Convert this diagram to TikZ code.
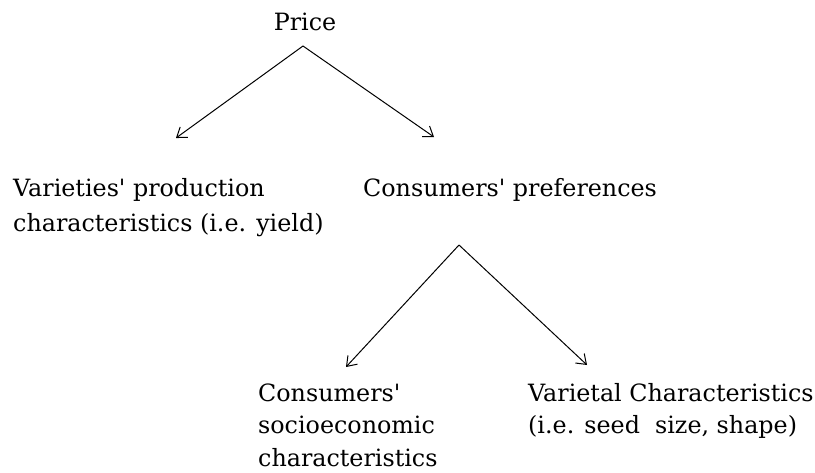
\documentclass[tikz,border=0pt]{standalone}
\usepackage{fontspec}
\setmainfont{DejaVu Serif}
\usetikzlibrary{arrows.meta}
\begin{document}
\begin{tikzpicture}[x=1pt,y=-1pt,
  lbl/.style={anchor=base west,inner sep=0pt,font=\fontsize{23.8}{23.8}\selectfont},
  conn/.style={line width=1pt,-{Straight Barb[length=9pt,width=13pt,line width=1pt]}}]
\useasboundingbox[fill=white] (0,0) rectangle (815,472);
\node[lbl,anchor=base] (price) at (305,30) {Price};
\node[lbl] (var1) at (13,196) {Varieties\textquotesingle{} production};
\node[lbl] (var2) at (13,231) {characteristics (i.e. yield)};
\node[lbl] (pref) at (363,196) {Consumers\textquotesingle{} preferences};
\node[lbl] (soc1) at (258,401) {Consumers\textquotesingle};
\node[lbl] (soc2) at (258,433) {socioeconomic};
\node[lbl] (soc3) at (258,466) {characteristics};
\node[lbl] (vc1) at (528,401) {Varietal Characteristics};
\node[lbl] (vc2) at (528,433) {(i.e. seed\ \ size, shape)};
\coordinate (apex1) at (303,46);
\coordinate (end1) at (176,138);
\coordinate (end2) at (434,137);
\coordinate (apex2) at (459,245);
\coordinate (end3) at (346,367);
\coordinate (end4) at (587,365);
\draw[conn] (apex1) -- (end1);
\draw[conn] (apex1) -- (end2);
\draw[conn] (apex2) -- (end3);
\draw[conn] (apex2) -- (end4);
\end{tikzpicture}
\end{document}
